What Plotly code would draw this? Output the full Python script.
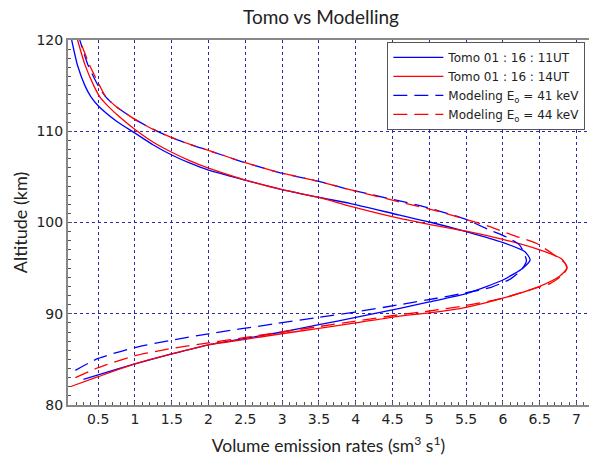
import plotly.graph_objects as go

# Volume emission rate profiles: (rate, altitude) pairs, traced from bottom to top
tomo_11_rate = [0.30, 0.50, 1.00, 1.50, 2.00, 2.50, 3.00, 3.50, 4.00, 4.60, 5.00, 5.50, 6.00, 6.27, 6.37,
                6.30, 6.00, 5.50, 5.03, 4.60, 3.92, 3.50, 3.00, 2.50, 2.00, 1.75, 1.50, 1.25, 1.00, 0.75, 0.50, 0.40, 0.32, 0.22, 0.14]
tomo_11_alt = [82.8, 83.3, 84.5, 85.6, 86.6, 87.3, 88.0, 88.8, 89.6, 90.6, 91.3, 92.2, 93.7, 95.0, 95.9,
               96.8, 97.8, 99.0, 100.0, 100.8, 102.1, 102.75, 103.6, 104.65, 105.75, 106.5, 107.4, 108.5, 109.8, 111.1, 112.8, 113.8, 115.0, 117.2, 120.0]

tomo_14_rate = [0.12, 0.50, 1.00, 1.50, 2.00, 2.50, 2.90, 3.50, 4.00, 4.60, 5.00, 5.50, 6.00, 6.50, 6.77, 6.87,
                6.80, 6.50, 6.00, 5.50, 5.00, 4.60, 3.92, 3.50, 3.00, 2.50, 2.00, 1.75, 1.50, 1.25, 1.00, 0.80, 0.64, 0.52, 0.44, 0.32, 0.22]
tomo_14_alt = [82.0, 83.1, 84.5, 85.6, 86.6, 87.2, 87.7, 88.4, 89.0, 89.75, 90.1, 90.7, 91.7, 93.0, 94.1, 95.0,
               96.0, 97.0, 98.15, 99.05, 99.8, 100.45, 101.8, 102.75, 103.6, 104.65, 105.95, 106.75, 107.7, 108.8, 110.2, 111.5, 112.7, 113.8, 115.0, 117.3, 120.0]

model_41_rate = [0.19, 0.50, 1.00, 1.50, 2.00, 2.90, 3.50, 4.00, 4.60, 5.10, 5.47, 5.84, 6.10, 6.25, 6.32,
                 6.23, 6.05, 5.80, 5.48, 5.18, 4.90, 3.92, 3.50, 3.00, 2.50, 2.00, 1.75, 1.50, 1.25, 1.00, 0.73, 0.60, 0.50, 0.36, 0.25]
model_41_alt = [83.8, 85.1, 86.3, 87.1, 87.8, 88.9, 89.6, 90.2, 91.0, 91.7, 92.25, 92.9, 93.8, 94.8, 95.8,
                97.5, 98.4, 99.25, 100.4, 101.15, 101.8, 103.6, 104.5, 105.4, 106.55, 107.9, 108.55, 109.3, 110.2, 111.3, 112.8, 113.8, 115.0, 117.3, 120.0]

model_44_rate = [0.19, 0.50, 1.00, 1.50, 2.00, 2.50, 3.00, 3.50, 4.00, 4.60, 5.00, 5.50, 6.00, 6.40, 6.64, 6.82, 6.87,
                 6.85, 6.73, 6.46, 6.14, 5.80, 5.45, 5.18, 4.60, 3.92, 3.50, 3.00, 2.50, 2.00, 1.75, 1.50, 1.25, 1.00, 0.73, 0.60, 0.52, 0.38, 0.25]
model_44_alt = [83.0, 84.1, 85.4, 86.2, 86.8, 87.4, 88.0, 88.6, 89.2, 89.9, 90.3, 90.9, 91.7, 92.7, 93.3, 94.3, 95.0,
                95.5, 96.25, 97.7, 98.6, 99.6, 100.45, 101.1, 102.25, 103.6, 104.5, 105.4, 106.55, 107.9, 108.55, 109.3, 110.2, 111.3, 112.8, 113.8, 115.0, 117.3, 120.0]

x_ticks = [0.5, 1, 1.5, 2, 2.5, 3, 3.5, 4, 4.5, 5, 5.5, 6, 6.5, 7]
y_ticks = [80, 90, 100, 110, 120]

BLUE = "#0000ff"
RED = "#ff0000"
DASH = "14px,7px"
LABEL_FONT = "Lato, 'DejaVu Sans', sans-serif"
TICK_FONT = "'DejaVu Sans', sans-serif"

fig = go.Figure()
series = [
    (tomo_11_rate, tomo_11_alt, "Tomo 01 : 16 : 11UT", BLUE, "solid"),
    (tomo_14_rate, tomo_14_alt, "Tomo 01 : 16 : 14UT", RED, "solid"),
    (model_41_rate, model_41_alt, "Modeling E<sub>o</sub> = 41 keV", BLUE, DASH),
    (model_44_rate, model_44_alt, "Modeling E<sub>o</sub> = 44 keV", RED, DASH),
]
for xs, ys, name, color, dash in series:
    fig.add_trace(go.Scatter(
        x=xs, y=ys, mode="lines", name=name,
        line=dict(color=color, width=1.3, dash=dash, shape="spline", smoothing=0.6),
    ))

fig.update_layout(
    width=589, height=464,
    margin=dict(l=68, r=0, t=40, b=59),
    paper_bgcolor="white", plot_bgcolor="white",
    title=dict(text="Tomo vs Modelling", x=0.545, xanchor="center", y=0.962, yanchor="middle",
               font=dict(family=LABEL_FONT, size=19, color="#222222")),
    showlegend=True,
    legend=dict(x=0.993, xanchor="right", y=0.995, yanchor="top",
                bgcolor="white", bordercolor="#555555", borderwidth=1,
                font=dict(family=TICK_FONT, size=12, color="#222222"),
                tracegroupgap=0, itemwidth=50),
)

fig.update_xaxes(
    range=[0.09, 7.17], tickvals=x_ticks, ticktext=[f"{v:g}" for v in x_ticks],
    showgrid=True, gridcolor="#2a2aa8", griddash="3px,3px", gridwidth=1,
    showline=True, linecolor="#888888", linewidth=2, mirror=True,
    ticks="inside", ticklen=4, tickcolor="#555555",
    minor=dict(dtick=0.1, tick0=0, ticks="inside", ticklen=3, tickcolor="#555555", showgrid=False),
    tickfont=dict(family=TICK_FONT, size=14, color="#222222"),
    title=dict(text="Volume emission rates (sm<sup>3</sup> s<sup>1</sup>)",
               font=dict(family=LABEL_FONT, size=17.5, color="#222222"), standoff=14),
    zeroline=False,
)
fig.update_yaxes(
    range=[80, 120], tickvals=y_ticks,
    showgrid=True, gridcolor="#2a2aa8", griddash="3px,3px", gridwidth=1,
    showline=True, linecolor="#888888", linewidth=2,
    ticks="inside", ticklen=4, tickcolor="#555555",
    minor=dict(dtick=1, tick0=80, ticks="inside", ticklen=3, tickcolor="#555555", showgrid=False),
    tickfont=dict(family=TICK_FONT, size=14, color="#222222"),
    title=dict(text="Altitude (km)", font=dict(family=LABEL_FONT, size=18, color="#222222"), standoff=4),
    zeroline=False,
)

fig.write_html("out.html")
